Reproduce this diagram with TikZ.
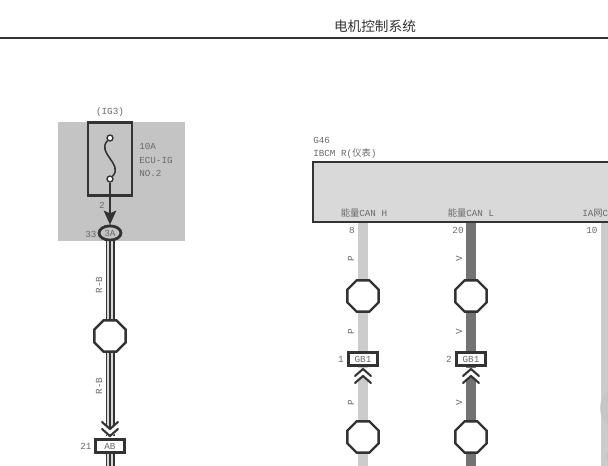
\documentclass[tikz,border=0pt]{standalone}
\usepackage{fontspec}
\setmainfont{Liberation Mono}
\newfontfamily\cjk{Noto Sans CJK SC}
\usepackage{tikz}
\usetikzlibrary{positioning,shapes.geometric,arrows.meta}
\definecolor{panelgray}{HTML}{C4C4C4}
\definecolor{ecugray}{HTML}{D9D9D9}
\definecolor{wireP}{HTML}{CCCCCC}
\definecolor{wireV}{HTML}{737373}
\definecolor{inkgray}{HTML}{333333}
\definecolor{textgray}{HTML}{6A6A6A}
\tikzset{
  lbl/.style={text=textgray,font=\fontsize{6.6}{7.5}\selectfont,inner sep=0pt},
  octa/.style={regular polygon,regular polygon sides=8,draw=inkgray,line width=1.7pt,fill=white,minimum size=24pt,inner sep=0pt,outer sep=0pt},
  plug/.style={rectangle,draw=inkgray,line width=1.7pt,fill=white,minimum width=20.5pt,minimum height=9.5pt,inner sep=0pt,text=textgray,font=\fontsize{6.6}{7.5}\selectfont},
  ringnode/.style={ellipse,draw=inkgray,line width=1.9pt,fill=panelgray,minimum width=15.5pt,minimum height=10pt,inner sep=0pt,text=textgray,font=\fontsize{6.6}{7.5}\selectfont},
  pinhole/.style={circle,draw=inkgray,line width=1pt,fill=white,minimum size=4.2pt,inner sep=0pt},
  wirep/.style={draw=wireP,line width=6.8pt},
  wirev/.style={draw=wireV,line width=6.8pt},
  chev/.style={draw=inkgray,line width=1.5pt,line cap=round}
}
\begin{document}
\begin{tikzpicture}[x=0.025cm,y=-0.025cm]
\useasboundingbox(0,0)rectangle(608,466);
\fill[white](0,0)rectangle(608,466);
\node[font=\cjk\fontsize{9.7}{11}\selectfont,text=inkgray,inner sep=0pt] (title) at (375,26) {电机控制系统};% page head
\coordinate (ruleL) at (0,38);
\coordinate (ruleR) at (608,38);
\draw[line width=1.1pt,inkgray](ruleL)--(ruleR);

\fill[panelgray](58,122)rectangle(185,241);% fuse panel
\node[lbl] (ig) at (110,112) {(IG3)};
\node[draw=inkgray,line width=1.9pt,minimum width=31.5pt,minimum height=51.5pt,inner sep=0pt] (fusebox) at (110,159) {};
\node[pinhole] (fuseT) at (110,138) {};
\node[pinhole] (fuseB) at (110,179) {};
\draw[inkgray,line width=1.1pt](fuseT) .. controls (96,153) and (124,164) .. (fuseB);
\node[lbl,align=left,anchor=north west] (fusetxt) at (139,143.5) {10A\\[1.8pt]ECU-IG\\[1.8pt]NO.2};
\node[lbl] (pin2) at (102,205) {2};

% R-B wire
\node[ringnode] (ring) at (110,233) {3A};
\node[octa] (octA) at (110,336) {};
\node[plug] (ab) at (110,446) {AB};
\coordinate (wireEnd) at (110,466);
\coordinate (wireStop) at (110,436);
\foreach \a/\b in {ring/octA,octA/wireStop,ab/wireEnd}{
  \draw[draw=inkgray,line width=6.4pt](\a)--(\b);
  \draw[draw=ecugray,line width=4pt](\a)--(\b);
  \draw[draw=inkgray,line width=1.9pt](\a)--(\b);
}
\node[octa] at (octA) {};
\node[plug] at (ab) {AB};
\node[ringnode] at (ring) {3A};
\draw[-{Stealth[length=10pt,width=9pt,inset=2pt]},inkgray,line width=1pt](fuseB)--(ring.north);
\node[lbl] (n33) at (91,234) {33};
\node[lbl,rotate=90] (rb1) at (99,285) {R-B};
\node[lbl,rotate=90] (rb2) at (99,386) {R-B};
\node[lbl] (n21) at (86,446) {21};
\fill[white](102,422)--(110,429)--(118,422)--(118,431)--(110,438)--(102,431)--cycle;
\draw[chev](102,422)--(110,429)--(118,422);
\draw[chev](102,429)--(110,436)--(118,429);

% ecu block
\node[lbl,align=left,anchor=north west] (ecuname) at (313,137) {G46\\[2pt]IBCM R({\cjk 仪表})};
\draw[inkgray,line width=1.8pt,fill=ecugray](620,162)--(313,162)--(313,222)--(620,222);
\coordinate (topP) at (363,222);
\coordinate (topV) at (471,222);
\coordinate (topC) at (606,222);
\coordinate (endP) at (363,466);
\coordinate (endV) at (471,466);
\coordinate (endC) at (606,466);
\draw[wirep](topP)--(endP);
\draw[wirev](topV)--(endV);
\draw[draw=wireP,line width=7pt](topC)--(endC);
\fill[panelgray,opacity=.75](624,408)circle[radius=24];
\fill[panelgray](613,457)circle[radius=7];
\draw[inkgray,line width=1.8pt](313,222)--(620,222);
\node[lbl,anchor=base] (canH) at (364,217) {{\cjk 能量}CAN H};
\node[lbl,anchor=base] (canL) at (471,217) {{\cjk 能量}CAN L};
\node[lbl,anchor=base west] (canC) at (582,217) {IA{\cjk 网}C};
\node[lbl] (n8) at (352,230) {8};
\node[lbl] (n20) at (458,230) {20};
\node[lbl] (n10) at (592,230) {10};

% the two octagon columns
\node[octa] (octP1) at (363,296) {};
\node[octa] (octV1) at (471,296) {};
\node[octa] (octP2) at (363,437) {};
\node[octa] (octV2) at (471,437) {};
\node[plug] (gbP) at (363,359) {GB1};
\node[plug] (gbV) at (471,359) {GB1};
\node[lbl] (n1) at (341,359) {1};
\node[lbl] (n2) at (449,359) {2};
\node[lbl,rotate=90] (pA) at (351,259) {P};
\node[lbl,rotate=90] (pB) at (351,332) {P};
\node[lbl,rotate=90] (pC) at (351,403) {P};
\node[lbl,rotate=90] (vA) at (459,259) {V};
\node[lbl,rotate=90] (vB) at (459,332) {V};
\node[lbl,rotate=90] (vC) at (459,403) {V};
\foreach \c/\w in {363/wireP,471/wireV}{
  \fill[white](\c-9,368)rectangle(\c+9,386);
  \fill[\w](\c-4.8,379)--(\c,376)--(\c+4.8,379)--(\c+4.8,388)--(\c-4.8,388)--cycle;
  \draw[chev](\c-8,376)--(\c,369)--(\c+8,376);
  \draw[chev](\c-8,383)--(\c,376)--(\c+8,383);
}
\end{tikzpicture}
\end{document}
